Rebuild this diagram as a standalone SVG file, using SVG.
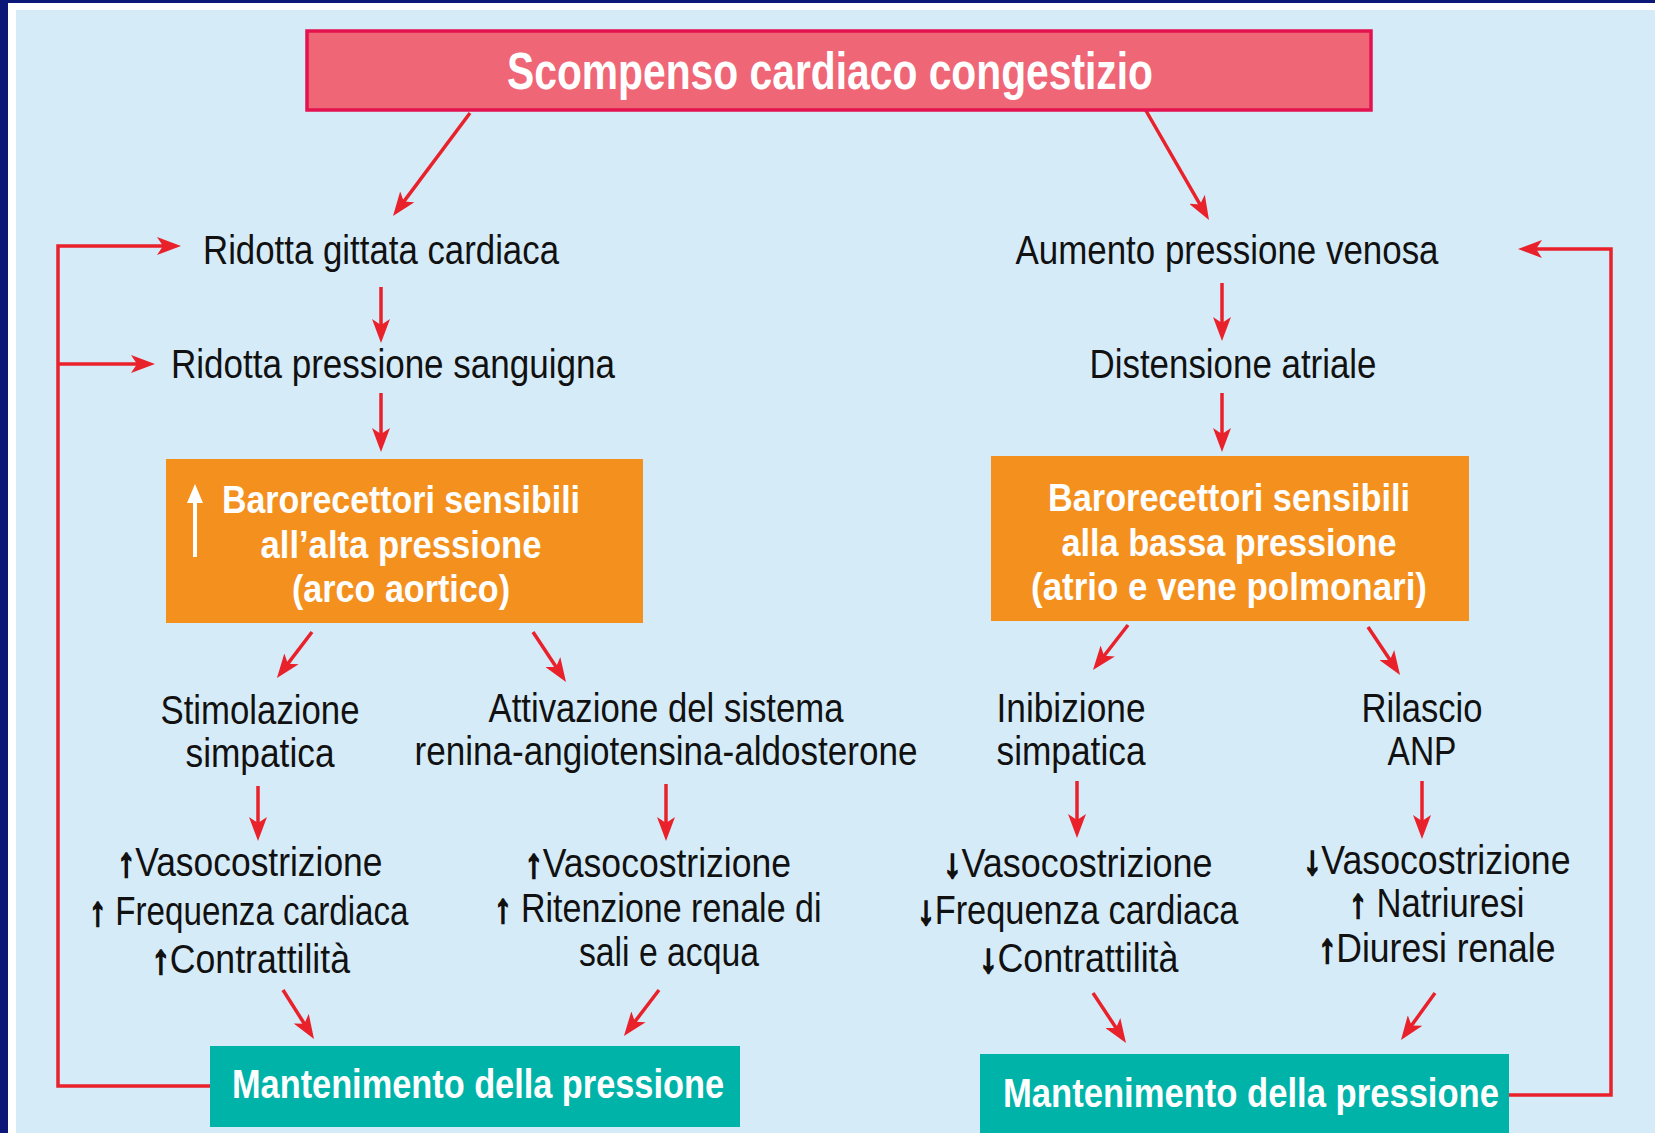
<svg xmlns="http://www.w3.org/2000/svg" width="1655" height="1133" viewBox="0 0 1655 1133">
<defs>
<style>
.t{font-family:"Liberation Sans",Arial,sans-serif;font-size:41px;fill:#111;text-anchor:middle}
.e{font-size:40px}
.b{font-family:"Liberation Sans",Arial,sans-serif;font-weight:bold;fill:#fff;text-anchor:middle}
.s{stroke:#111;stroke-width:2.2}
.a{fill:none;stroke:#e8212b;stroke-width:3.5;marker-end:url(#ah)}
</style>
<marker id="ah" markerUnits="userSpaceOnUse" viewBox="0 0 24 18" markerWidth="24" markerHeight="18" refX="16" refY="9" orient="auto">
<path d="M0,0 L24,9 L0,18 L6,9 z" fill="#e8212b"/>
</marker>
</defs>
<rect width="1655" height="1133" fill="#0c1878"/>
<rect x="8" y="3" width="1647" height="1130" fill="#ffffff"/>
<rect x="16" y="10" width="1639" height="1123" fill="#d6ebf8"/>

<g id="connectors">
<line class="a" x1="470" y1="113" x2="397.8" y2="209.6"/>
<line class="a" x1="1145" y1="109" x2="1205" y2="213.1"/>
<line class="a" x1="381" y1="287" x2="381" y2="335"/>
<line class="a" x1="381" y1="393" x2="381" y2="444"/>
<line class="a" x1="1222" y1="283" x2="1222" y2="333"/>
<line class="a" x1="1222" y1="393" x2="1222" y2="444"/>
<line class="a" x1="312" y1="632" x2="281.8" y2="671.6"/>
<line class="a" x1="533" y1="632" x2="561.6" y2="675.3"/>
<line class="a" x1="1128" y1="625" x2="1097.9" y2="663.7"/>
<line class="a" x1="1368" y1="627" x2="1395.6" y2="668.3"/>
<line class="a" x1="258" y1="786" x2="258" y2="833"/>
<line class="a" x1="666" y1="784" x2="666" y2="833"/>
<line class="a" x1="1077" y1="781" x2="1077" y2="830"/>
<line class="a" x1="1422" y1="781" x2="1422" y2="831"/>
<line class="a" x1="283" y1="990" x2="309.7" y2="1032.2"/>
<line class="a" x1="659" y1="990" x2="628.8" y2="1029.6"/>
<line class="a" x1="1093" y1="993" x2="1121.6" y2="1036.3"/>
<line class="a" x1="1435" y1="993" x2="1405.7" y2="1033.5"/>
<path class="a" d="M210,1086 H58 V246 H173"/>
<path class="a" d="M58,364 H147"/>
<path class="a" d="M1509,1095 H1611 V249 H1526"/>
</g>

<g id="title">
<rect x="307" y="31" width="1064" height="79" fill="#ef6677" stroke="#e4134f" stroke-width="3.5"/>
<text class="b" x="830" y="89" font-size="52" textLength="646" lengthAdjust="spacingAndGlyphs">Scompenso cardiaco congestizio</text>
</g>

<g id="ridotta-gittata"><text class="t" x="381" y="264" textLength="356" lengthAdjust="spacingAndGlyphs">Ridotta gittata cardiaca</text></g>
<g id="aumento-pressione"><text class="t" x="1227" y="264" textLength="423" lengthAdjust="spacingAndGlyphs">Aumento pressione venosa</text></g>
<g id="ridotta-pressione"><text class="t" x="393" y="378" textLength="444" lengthAdjust="spacingAndGlyphs">Ridotta pressione sanguigna</text></g>
<g id="distensione"><text class="t" x="1233" y="378" textLength="287" lengthAdjust="spacingAndGlyphs">Distensione atriale</text></g>

<g id="baro-alta">
<rect x="166" y="459" width="477" height="164" fill="#f4901e"/>
<line x1="195" y1="500" x2="195" y2="557" stroke="#fff" stroke-width="4"/>
<polygon points="195,484 187,503 203,503" fill="#fff"/>
<text class="b" x="401" y="513" font-size="38" textLength="358" lengthAdjust="spacingAndGlyphs">Barorecettori sensibili</text>
<text class="b" x="401" y="558" font-size="38" textLength="281" lengthAdjust="spacingAndGlyphs">all’alta pressione</text>
<text class="b" x="401" y="602" font-size="38" textLength="218" lengthAdjust="spacingAndGlyphs">(arco aortico)</text>
</g>

<g id="baro-bassa">
<rect x="991" y="456" width="478" height="165" fill="#f4901e"/>
<text class="b" x="1229" y="511" font-size="38" textLength="362" lengthAdjust="spacingAndGlyphs">Barorecettori sensibili</text>
<text class="b" x="1229" y="556" font-size="38" textLength="335" lengthAdjust="spacingAndGlyphs">alla bassa pressione</text>
<text class="b" x="1229" y="600" font-size="38" textLength="396" lengthAdjust="spacingAndGlyphs">(atrio e vene polmonari)</text>
</g>

<g id="stimolazione">
<text class="t" x="260" y="724" textLength="199" lengthAdjust="spacingAndGlyphs">Stimolazione</text>
<text class="t" x="260" y="767" textLength="149" lengthAdjust="spacingAndGlyphs">simpatica</text>
</g>
<g id="attivazione">
<text class="t" x="666" y="722" textLength="355" lengthAdjust="spacingAndGlyphs">Attivazione del sistema</text>
<text class="t" x="666" y="765" textLength="503" lengthAdjust="spacingAndGlyphs">renina-angiotensina-aldosterone</text>
</g>
<g id="inibizione">
<text class="t" x="1071" y="722" textLength="149" lengthAdjust="spacingAndGlyphs">Inibizione</text>
<text class="t" x="1071" y="765" textLength="149" lengthAdjust="spacingAndGlyphs">simpatica</text>
</g>
<g id="rilascio">
<text class="t" x="1422" y="722" textLength="121" lengthAdjust="spacingAndGlyphs">Rilascio</text>
<text class="t" x="1422" y="765" textLength="69" lengthAdjust="spacingAndGlyphs">ANP</text>
</g>

<g id="effetti-simpatici">
<text class="t e" x="250" y="876" textLength="265" lengthAdjust="spacingAndGlyphs"><tspan class="s">↑</tspan>Vasocostrizione</text>
<text class="t e" x="249" y="925" textLength="319" lengthAdjust="spacingAndGlyphs"><tspan class="s">↑</tspan> Frequenza cardiaca</text>
<text class="t e" x="251" y="973" textLength="198" lengthAdjust="spacingAndGlyphs"><tspan class="s">↑</tspan>Contrattilità</text>
</g>
<g id="effetti-raa">
<text class="t e" x="658" y="877" textLength="266" lengthAdjust="spacingAndGlyphs"><tspan class="s">↑</tspan>Vasocostrizione</text>
<text class="t e" x="658" y="922" textLength="327" lengthAdjust="spacingAndGlyphs"><tspan class="s">↑</tspan> Ritenzione renale di</text>
<text class="t e" x="669" y="966" textLength="180" lengthAdjust="spacingAndGlyphs">sali e acqua</text>
</g>
<g id="effetti-inibizione">
<text class="t e" x="1078" y="877" textLength="269" lengthAdjust="spacingAndGlyphs"><tspan class="s">↓</tspan>Vasocostrizione</text>
<text class="t e" x="1078" y="924" textLength="321" lengthAdjust="spacingAndGlyphs"><tspan class="s">↓</tspan>Frequenza cardiaca</text>
<text class="t e" x="1079" y="972" textLength="199" lengthAdjust="spacingAndGlyphs"><tspan class="s">↓</tspan>Contrattilità</text>
</g>
<g id="effetti-anp">
<text class="t e" x="1437" y="874" textLength="267" lengthAdjust="spacingAndGlyphs"><tspan class="s">↓</tspan>Vasocostrizione</text>
<text class="t e" x="1437" y="917" textLength="175" lengthAdjust="spacingAndGlyphs"><tspan class="s">↑</tspan> Natriuresi</text>
<text class="t e" x="1437" y="962" textLength="237" lengthAdjust="spacingAndGlyphs"><tspan class="s">↑</tspan>Diuresi renale</text>
</g>

<g id="mantenimento-sx">
<rect x="210" y="1046" width="530" height="81" fill="#00b3a9"/>
<text class="b" x="478" y="1098" font-size="40" textLength="492" lengthAdjust="spacingAndGlyphs">Mantenimento della pressione</text>
</g>
<g id="mantenimento-dx">
<rect x="980" y="1054" width="529" height="79" fill="#00b3a9"/>
<text class="b" x="1251" y="1107" font-size="40" textLength="496" lengthAdjust="spacingAndGlyphs">Mantenimento della pressione</text>
</g>
</svg>
